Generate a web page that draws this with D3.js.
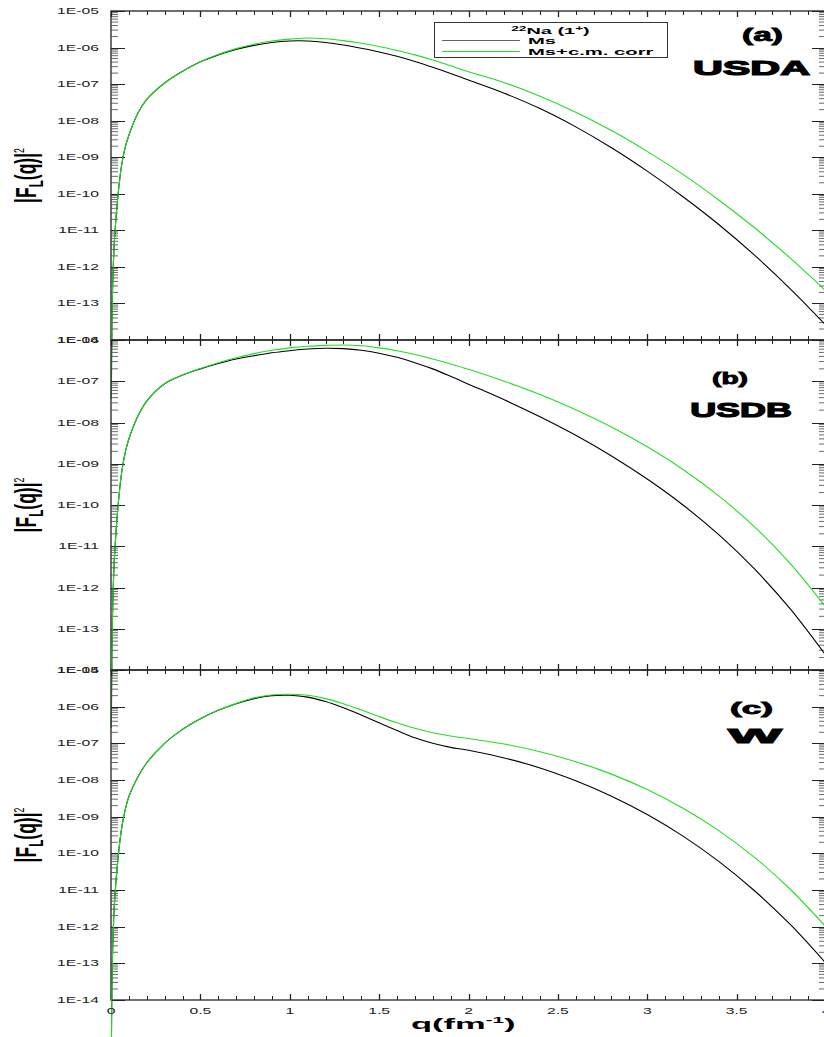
<!DOCTYPE html>
<html><head><meta charset="utf-8">
<script src="https://cdn.jsdelivr.net/npm/d3@7"></script>
<style>body{margin:0;background:#fff}svg{display:block}</style>
</head><body>
<svg id="chart" width="824" height="1037"></svg>
<script>
// ---------- data (values are log10 of |F_L(q)|^2) ----------
const qValues = [0.002,0.005,0.01,0.02,0.04,0.06,0.08,0.1,0.15,0.2,0.3,0.4,0.5,0.6,0.7,0.8,0.9,1.0,1.1,1.2,1.3,1.4,1.5,1.6,1.7,1.8,1.9,2.0,2.2,2.4,2.6,2.8,3.0,3.2,3.4,3.6,3.8,4.0];
const usdaMs   = [-15.6,-13.6,-12.4,-11.2,-10.0,-9.2,-8.72,-8.4,-7.8,-7.42,-6.97,-6.65,-6.39,-6.20,-6.05,-5.94,-5.86,-5.82,-5.82,-5.86,-5.93,-6.02,-6.12,-6.24,-6.38,-6.54,-6.71,-6.89,-7.25,-7.67,-8.17,-8.74,-9.38,-10.08,-10.84,-11.68,-12.6,-13.6];
const usdaCorr = [-15.6,-13.6,-12.4,-11.2,-10.0,-9.2,-8.72,-8.4,-7.8,-7.42,-6.97,-6.65,-6.39,-6.19,-6.03,-5.91,-5.82,-5.77,-5.74,-5.76,-5.81,-5.88,-5.97,-6.08,-6.20,-6.34,-6.50,-6.66,-6.96,-7.33,-7.77,-8.27,-8.84,-9.47,-10.17,-10.93,-11.76,-12.66];
const usdbMs   = [-15.4,-13.6,-12.4,-11.2,-10.0,-9.2,-8.72,-8.4,-7.85,-7.48,-7.06,-6.85,-6.70,-6.57,-6.46,-6.38,-6.31,-6.26,-6.22,-6.20,-6.21,-6.25,-6.32,-6.42,-6.55,-6.70,-6.88,-7.07,-7.45,-7.86,-8.31,-8.81,-9.37,-10.00,-10.72,-11.55,-12.52,-13.65];
const usdbCorr = [-15.4,-13.6,-12.4,-11.2,-10.0,-9.2,-8.72,-8.4,-7.85,-7.48,-7.06,-6.85,-6.69,-6.55,-6.43,-6.33,-6.25,-6.19,-6.15,-6.13,-6.12,-6.14,-6.19,-6.26,-6.35,-6.46,-6.58,-6.71,-7.00,-7.32,-7.69,-8.11,-8.59,-9.14,-9.78,-10.53,-11.42,-12.48];
const wMs      = [-15.5,-13.7,-12.5,-11.3,-10.1,-9.3,-8.8,-8.45,-7.92,-7.53,-7.0,-6.62,-6.33,-6.10,-5.92,-5.78,-5.70,-5.69,-5.74,-5.86,-6.03,-6.23,-6.44,-6.65,-6.85,-7.00,-7.11,-7.19,-7.40,-7.67,-8.02,-8.44,-8.94,-9.53,-10.22,-11.02,-11.94,-13.0];
const wCorr    = [-15.5,-13.7,-12.5,-11.3,-10.1,-9.3,-8.8,-8.45,-7.92,-7.53,-7.0,-6.62,-6.33,-6.10,-5.91,-5.76,-5.68,-5.66,-5.69,-5.78,-5.92,-6.09,-6.27,-6.44,-6.59,-6.71,-6.80,-6.87,-7.02,-7.23,-7.50,-7.84,-8.26,-8.77,-9.38,-10.11,-10.98,-12.01];

const panelLetters = ["(a)","(b)","(c)"];
const modelNames = ["USDA","USDB","W"];
const seriesNames = ["Ms","Ms+c.m. corr"];
const seriesColors = ["#000000","#22dd22"];
const yTopExponents = [-5,-6,-5];
const yBottomExponent = -14;
const yTickLabelsA = ["1E-05","1E-06","1E-07","1E-08","1E-09","1E-10","1E-11","1E-12","1E-13","1E-14"];
const yTickLabelsB = ["1E-06","1E-07","1E-08","1E-09","1E-10","1E-11","1E-12","1E-13","1E-14"];
const yTickLabelsC = ["1E-05","1E-06","1E-07","1E-08","1E-09","1E-10","1E-11","1E-12","1E-13","1E-14"];
const xMajorTicks = [0,0.5,1,1.5,2,2.5,3,3.5,4];
const xTickLabels = ["0","0.5","1","1.5","2","2.5","3","3.5","4"];

const panelSeries = [[usdaMs,usdaCorr],[usdbMs,usdbCorr],[wMs,wCorr]];
const panelTickLabels = [yTickLabelsA,yTickLabelsB,yTickLabelsC];

// ---------- layout ----------
const plotLeft = 111, plotRight = 826;
const panelTops = [11, 340, 670];
const panelBottoms = [340, 670, 1000];
const FONT = "'Liberation Sans', Arial, sans-serif";

const svg = d3.select("#chart");
const x = d3.scaleLinear().domain([0,4]).range([plotLeft, plotRight]);
const xMinor = d3.range(0, 4.0001, 0.1).map(v => +v.toFixed(1));

function stretchedText(g, tx, ty, sx, txt, opts) {
  const t = g.append("text")
    .attr("transform", `translate(${tx},${ty}) scale(${sx},1)`)
    .attr("font-family", FONT)
    .attr("font-size", opts.size)
    .attr("font-weight", opts.weight || "normal")
    .attr("text-anchor", opts.anchor || "start")
    .attr("fill", opts.fill || "#000")
    .text(txt);
  if (opts.stroke) t.attr("stroke", opts.fill || "#000").attr("stroke-width", opts.stroke);
  return t;
}

panelSeries.forEach((series, i) => {
  const top = panelTops[i], bottom = panelBottoms[i];
  const y = d3.scaleLog().domain([Math.pow(10, yBottomExponent), Math.pow(10, yTopExponents[i])]).range([bottom, top]);
  const g = svg.append("g");

  g.append("rect").attr("x", plotLeft).attr("y", top).attr("width", plotRight - plotLeft).attr("height", bottom - top)
    .attr("fill", "none").attr("stroke", "#222").attr("stroke-width", 1.3);

  const majors = d3.range(yBottomExponent, yTopExponents[i] + 1).map(e => Math.pow(10, e));
  const minors = [];
  d3.range(yBottomExponent, yTopExponents[i]).forEach(e => { for (let m = 2; m <= 9; m++) minors.push(m * Math.pow(10, e)); });
  majors.forEach(v => {
    const yy = Math.round(y(v)) + 0.5;
    g.append("line").attr("x1", plotLeft).attr("x2", plotLeft + 14).attr("y1", yy).attr("y2", yy).attr("stroke", "#222");
    g.append("line").attr("x1", plotRight).attr("x2", plotRight - 14).attr("y1", yy).attr("y2", yy).attr("stroke", "#222");
  });
  minors.forEach(v => {
    const yy = y(v);
    g.append("line").attr("x1", plotLeft).attr("x2", plotLeft + 7).attr("y1", yy).attr("y2", yy).attr("stroke", "#444").attr("stroke-width", 0.8);
    g.append("line").attr("x1", plotRight).attr("x2", plotRight - 7).attr("y1", yy).attr("y2", yy).attr("stroke", "#444").attr("stroke-width", 0.8);
  });

  xMinor.forEach(v => {
    const isMajor = Math.abs(v * 2 - Math.round(v * 2)) < 1e-6;
    const len = isMajor ? 6 : 4;
    const xx = Math.round(x(v)) + 0.5;
    g.append("line").attr("x1", xx).attr("x2", xx).attr("y1", top).attr("y2", top + len).attr("stroke", "#222").attr("stroke-width", isMajor ? 1.3 : 1);
    g.append("line").attr("x1", xx).attr("x2", xx).attr("y1", bottom).attr("y2", bottom - len).attr("stroke", "#222").attr("stroke-width", isMajor ? 1.3 : 1);
  });

  const labels = panelTickLabels[i];
  majors.slice().reverse().forEach((v, k) => {
    stretchedText(g, 99, y(v) + 3, 1.85, labels[k], {size: 8.5, anchor: "end", fill: "#222"});
  });

  const yc = (top + bottom) / 2;
  const yt = g.append("text")
    .attr("transform", `translate(35.5,${yc}) rotate(-90) scale(0.585,1)`)
    .attr("font-family", FONT).attr("font-size", 30).attr("font-weight", "bold")
    .attr("text-anchor", "middle").attr("fill", "#000");
  yt.append("tspan").text("|F");
  yt.append("tspan").attr("font-size", 20).attr("dy", 7).text("L");
  yt.append("tspan").attr("dy", -7).text("(q)|");
  yt.append("tspan").attr("font-size", 15).attr("font-weight", "normal").attr("dy", -12).text("2");

  const line = d3.line().x(d => x(d.q)).y(d => y(d.v)).curve(d3.curveCatmullRom.alpha(0.5));
  series.forEach((arr, s) => {
    const pts = qValues.map((q, k) => ({q: q, v: Math.pow(10, arr[k])}));
    g.append("path").datum(pts).attr("d", line).attr("fill", "none")
      .attr("stroke", seriesColors[s]).attr("stroke-width", 1.1);
  });
});

const labelSpecs = [
  {lx: 762.5, ly: 41, ls: 18, lsx: 1.86, mx: 751.5, my: 75, ms: 21, msx: 1.97},
  {lx: 730, ly: 383.5, ls: 16, lsx: 1.76, mx: 741, my: 417, ms: 21, msx: 1.71},
  {lx: 751.5, ly: 713.5, ls: 16, lsx: 2.2, mx: 755, my: 743, ms: 21, msx: 2.7}
];
labelSpecs.forEach((p, i) => {
  stretchedText(svg, p.lx, p.ly, p.lsx, panelLetters[i], {size: p.ls, weight: "bold", anchor: "middle", stroke: 0.8});
  stretchedText(svg, p.mx, p.my, p.msx, modelNames[i], {size: p.ms, weight: "bold", anchor: "middle", stroke: 1.2});
});

const lg = svg.append("g");
lg.append("rect").attr("x", 434.5).attr("y", 22.5).attr("width", 233).attr("height", 35)
  .attr("fill", "#fff").attr("stroke", "#333").attr("stroke-width", 1);
const lt = lg.append("text").attr("transform", "translate(550.5,33.5) scale(2.1,1)")
  .attr("font-family", FONT).attr("font-size", 9.5).attr("font-weight", "bold").attr("text-anchor", "middle");
lt.append("tspan").attr("font-size", 6.5).attr("dy", -3).text("22");
lt.append("tspan").attr("dy", 3).text("Na (1");
lt.append("tspan").attr("font-size", 6.5).attr("dy", -3).text("+");
lt.append("tspan").attr("dy", 3).text(")");
[40.5, 51.5].forEach((yy, s) => {
  lg.append("line").attr("x1", 442).attr("x2", 520).attr("y1", yy).attr("y2", yy)
    .attr("stroke", s === 0 ? "#666" : seriesColors[1]).attr("stroke-width", 1);
  stretchedText(lg, 528, yy + 3.5, 2.25, seriesNames[s], {size: 9, weight: "bold"});
});

xMajorTicks.forEach((v, k) => {
  stretchedText(svg, x(v), 1013.5, 1.85, xTickLabels[k], {size: 8.5, anchor: "middle", fill: "#222"});
});

const xt = svg.append("text").attr("transform", "translate(411,1029) scale(2.3,1)")
  .attr("font-family", FONT).attr("font-size", 15).attr("font-weight", "bold");
xt.append("tspan").text("q(fm");
xt.append("tspan").attr("font-size", 9).attr("dy", -6).text("-1");
xt.append("tspan").attr("dy", 6).text(")");
</script>
</body></html>
